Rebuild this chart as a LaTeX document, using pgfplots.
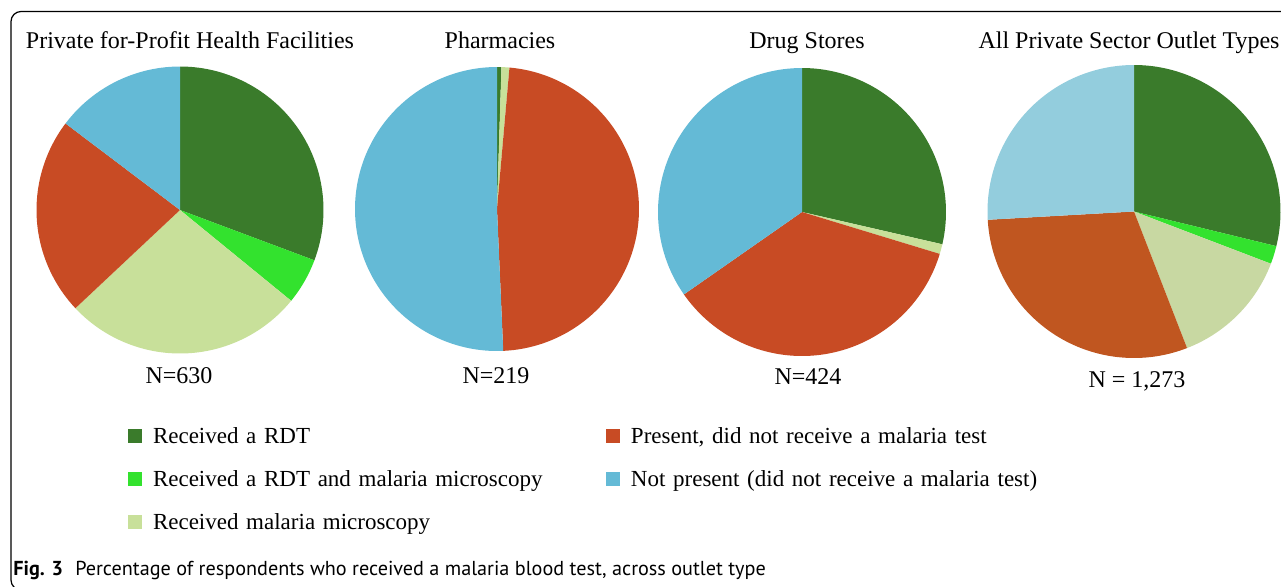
\documentclass[border=0pt]{standalone}
\usepackage{pgfplots}
\pgfplotsset{compat=1.18}
\usepackage{pgfplotstable}
\usepackage{fontspec}
\setmainfont{Liberation Serif}
\newfontfamily\capfont{PT Sans}

\definecolor{c0}{HTML}{3A7B2B}
\definecolor{c1}{HTML}{33E22E}
\definecolor{c2}{HTML}{C8E09A}
\definecolor{c3}{HTML}{C84B24}
\definecolor{c4}{HTML}{64BAD6}
\definecolor{d0}{HTML}{3A7B2B}
\definecolor{d1}{HTML}{33E22E}
\definecolor{d2}{HTML}{C8D8A2}
\definecolor{d3}{HTML}{C05620}
\definecolor{d4}{HTML}{93CDDD}

% percentages: RDT, RDT+microscopy, microscopy, present-no-test, not present
\pgfplotstableread{
idx pct
0 30.7
1 5.2
2 27.1
3 22.3
4 14.7
}\pieA
\pgfplotstableread{
idx pct
0 0.5
1 0
2 0.9
3 47.9
4 50.7
}\pieB
\pgfplotstableread{
idx pct
0 28.6
1 0
2 1.1
3 35.6
4 34.7
}\pieC
\pgfplotstableread{
idx pct
0 28.8
1 2.0
2 13.3
3 30.0
4 25.9
}\pieD

\newcommand\drawpie[2]{%
  \def\cum{0}%
  \pgfplotsforeachungrouped \i in {0,...,4}{%
    \pgfplotstablegetelem{\i}{pct}\of#1%
    \let\p\pgfplotsretval
    \pgfmathsetmacro\sa{90-3.6*\cum}%
    \pgfmathsetmacro\ea{90-3.6*(\cum+\p)}%
    \pgfmathsetmacro\cum{\cum+\p}%
    \pgfmathtruncatemacro\ns{max(2,ceil(3.6*\p/1.5)+1)}%
    \pgfmathtruncatemacro\pos{\p>0 ? 1 : 0}%
    \ifnum\pos=1
      \edef\doplot{\noexpand\addplot[fill=#2\i, draw=none, domain=\ea:\sa, samples=\ns, variable=\noexpand\t] ({cos(\noexpand\t)},{sin(\noexpand\t)}) -- (axis cs:0,0) -- cycle;}%
      \doplot
    \fi
  }%
}

\pgfplotsset{pieaxis/.style={hide axis, scale only axis, xmin=-1, xmax=1, ymin=-1, ymax=1, clip=false, anchor=center}}

\begin{document}
\begin{tikzpicture}
\useasboundingbox (0pt,0pt) rectangle (640.5pt,293pt);
\begin{scope}
\clip (0pt,0pt) rectangle (640.5pt,293pt);
\draw[line width=0.6pt, rounded corners=5pt] (700pt,-2pt) -- (5.5pt,-2pt) -- (5.5pt,287.25pt) -- (700pt,287.25pt);
\end{scope}

\begin{axis}[pieaxis, width=143.5pt, height=143.5pt, at={(90pt,188pt)}]
\drawpie{\pieA}{c}
\end{axis}
\begin{axis}[pieaxis, width=142pt, height=142pt, at={(248.5pt,188.5pt)}]
\drawpie{\pieB}{c}
\end{axis}
\begin{axis}[pieaxis, width=144pt, height=144pt, at={(401pt,187pt)}]
\drawpie{\pieC}{c}
\end{axis}
\begin{axis}[pieaxis, width=146.5pt, height=146.5pt, at={(567pt,187.25pt)}]
\drawpie{\pieD}{d}
\end{axis}

\begin{axis}[hide axis, scale only axis, width=1pt, height=1pt, xmin=0, xmax=1, ymin=0, ymax=1,
  at={(64pt,80.85pt)}, anchor=north west, legend columns=2,
  legend image code/.code={\fill[#1] (0pt,-3.5pt) rectangle (7pt,3.5pt);},
  legend style={at={(0,1)}, anchor=north west, draw=none, fill=none, inner sep=0pt, outer sep=0pt,
    row sep=9.5pt, font=\fontsize{11.5}{14}\selectfont,
    nodes={inner sep=0pt, text height=9.5pt, text depth=2.5pt, text width=226.5pt, align=left},
    /tikz/every odd column/.append style={column sep=5.5pt},
    /tikz/every even column/.append style={column sep=0pt}},
  legend cell align=left]
\addlegendimage{fill=c0, draw=none}
\addlegendentry{Received a RDT}
\addlegendimage{fill=c3, draw=none}
\addlegendentry{Present, did not receive a malaria test}
\addlegendimage{fill=c1, draw=none}
\addlegendentry{Received a RDT and malaria microscopy}
\addlegendimage{fill=c4, draw=none}
\addlegendentry{Not present (did not receive a malaria test)}
\addlegendimage{fill=c2, draw=none}
\addlegendentry{Received malaria microscopy}
\end{axis}

\begin{scope}[x=0.5pt, y=0.5pt, every node/.style={anchor=base, inner sep=0pt, font=\fontsize{12}{14}\selectfont}]
\node at (190,537.7) {Private for-Profit Health Facilities};
\node at (500,537.7) {Pharmacies};
\node at (807,537.7) {Drug Stores};
\node at (1129,537.7) {All Private Sector Outlet Types};
\node at (179,202.7) {N=630};
\node at (496,202.7) {N=219};
\node at (808,202) {N=424};
\node at (1137,198.7) {N = 1,273};
\end{scope}
\node[anchor=base west, inner sep=0pt] at (6.5pt,5.5pt) {\capfont\fontsize{10.1}{12}\selectfont\textbf{Fig. 3}\hspace{0.6em}Percentage of respondents who received a malaria blood test, across outlet type};
\end{tikzpicture}
\end{document}
